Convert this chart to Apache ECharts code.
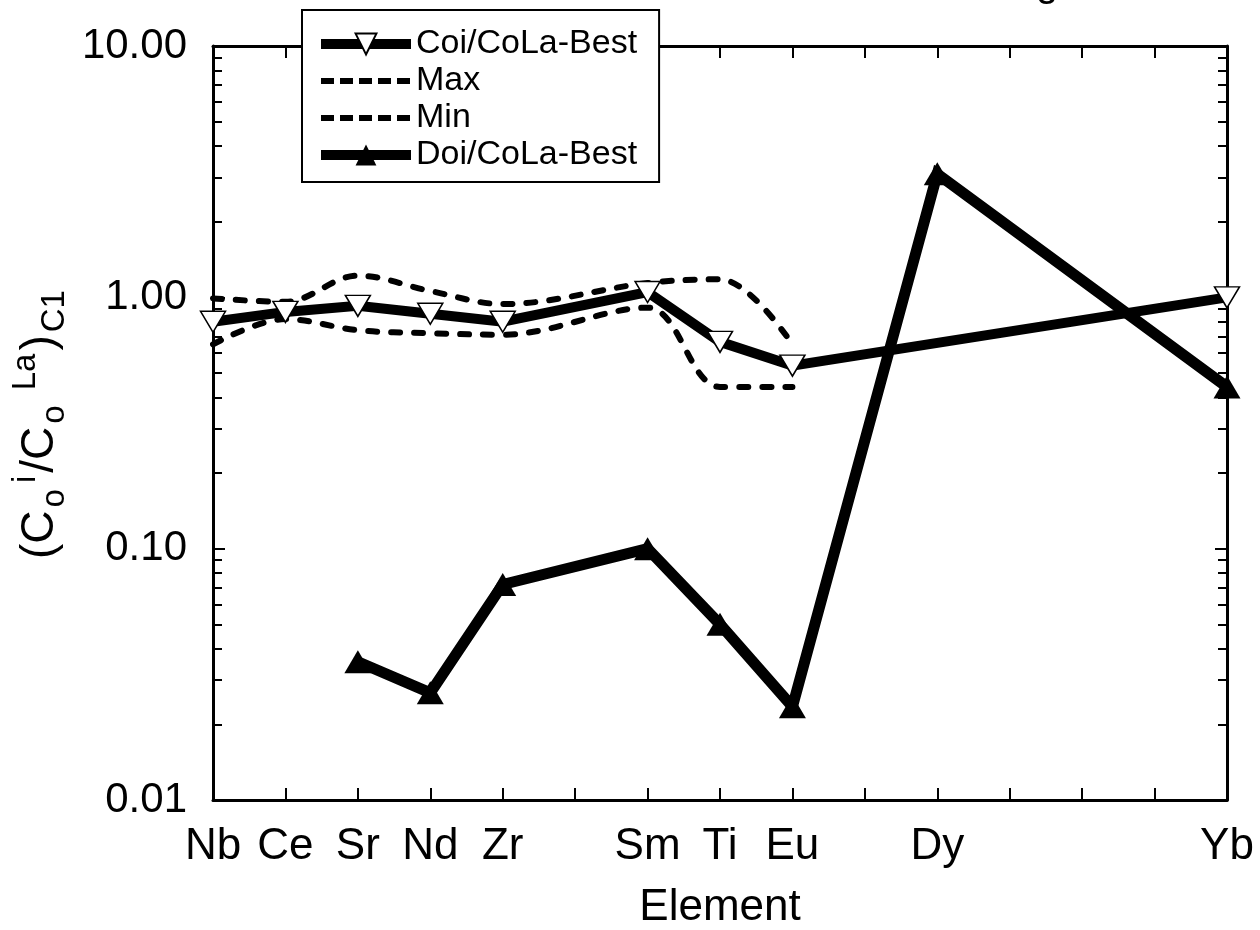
<!DOCTYPE html>
<html><head><meta charset="utf-8">
<script src="https://cdn.jsdelivr.net/npm/echarts@6/dist/echarts.min.js"></script>
<style>html,body{margin:0;padding:0;background:#fff}#c{width:1260px;height:930px}</style>
</head><body><div id="c"></div>
<script>
// ---- data ----
const elements  = ['Nb','Ce','Sr','Nd','Zr','Sm','Ti','Eu','Dy','Yb'];
const positions = [0, 1, 2, 3, 4, 6, 7, 8, 10, 14];
const coiBest = [0.80, 0.875, 0.925, 0.86, 0.80, 1.05, 0.665, 0.535, null, 1.0];
const maxVals = [0.99, 0.96, 1.22, 1.06, 0.94, 1.14, 1.18, 0.65, null, null];
const minVals = [0.65, 0.82, 0.74, 0.72, 0.71, 0.91, 0.44, 0.44, null, null];
const doiBest = [null, null, 0.0355, 0.0267, 0.072, 0.10, 0.050, 0.0235, 3.1, 0.44];
const yMinorTicks = [0.02,0.03,0.04,0.05,0.06,0.07,0.08,0.09,
                     0.2,0.3,0.4,0.5,0.6,0.7,0.8,0.9,
                     2,3,4,5,6,7,8,9];
const xMin = 0, xMax = 14;
const yMin = 0.01, yMax = 10;

const FF = '"Liberation Sans", Arial, Helvetica, sans-serif';
const pairs = vals => positions.map((p, i) => [p, vals[i]]).filter(d => d[1] != null);

const chart = echarts.init(document.getElementById('c'), null, {renderer: 'canvas'});

const axisLineStyle = {show: true, lineStyle: {color: '#000', width: 3}};
const majorTick = {show: true, inside: true, length: 12, lineStyle: {color: '#000', width: 2}};
const minorTick = {show: true, inside: true, length: 9, lineStyle: {color: '#000', width: 2}, customValues: yMinorTicks};
const dashStyle = {color: '#000', width: 6, type: [9, 14], cap: 'round'};
const legendDash = {width: 6, type: [13, 6], cap: 'butt', color: '#000'};

const option = {
  backgroundColor: '#fff',
  animation: false,
  grid: {left: 213, right: 33, top: 46, bottom: 130, containLabel: false, outerBoundsMode: 'none'},
  graphic: [{
    type: 'text', left: 1036, top: -35,
    style: {text: 'g', font: '40px ' + FF, fill: '#000'}
  }],
  legend: {
    orient: 'vertical', left: 302, top: 10,
    itemWidth: 90, itemHeight: 26, itemGap: 3,
    padding: [17, 22, 10, 14],
    backgroundColor: '#fff', borderColor: '#000', borderWidth: 2, borderRadius: 0,
    textStyle: {fontSize: 34, fontFamily: FF, color: '#000'},
    data: [
      {name: 'Coi/CoLa-Best', lineStyle: {width: 10, color: '#000'}},
      {name: 'Max', lineStyle: legendDash, itemStyle: {color: 'rgba(0,0,0,0)', borderWidth: 0}},
      {name: 'Min', lineStyle: legendDash, itemStyle: {color: 'rgba(0,0,0,0)', borderWidth: 0}},
      {name: 'Doi/CoLa-Best', lineStyle: {width: 10, color: '#000'}}
    ]
  },
  xAxis: [
    {
      type: 'value', min: xMin, max: xMax, interval: 1, position: 'bottom',
      axisLine: axisLineStyle, axisTick: majorTick, splitLine: {show: false},
      axisLabel: {
        show: true, margin: 25, fontSize: 44, fontFamily: FF, color: '#000',
        showMinLabel: true, showMaxLabel: true, hideOverlap: false,
        formatter: v => { const i = positions.indexOf(Math.round(v)); return i >= 0 ? elements[i] : ''; }
      },
      name: 'Element', nameLocation: 'middle', nameGap: 86,
      nameTextStyle: {fontSize: 44, fontFamily: FF, color: '#000'}
    },
    {
      type: 'value', min: xMin, max: xMax, interval: 1, position: 'top',
      axisLine: axisLineStyle, axisTick: majorTick, splitLine: {show: false},
      axisLabel: {show: false}
    }
  ],
  yAxis: [
    {
      type: 'log', logBase: 10, min: yMin, max: yMax, position: 'left',
      axisLine: axisLineStyle, axisTick: majorTick, splitLine: {show: false}, minorTick: {show: false},
      axisLabel: {show: true, margin: 26, fontSize: 42, fontFamily: FF, color: '#000',
        formatter: v => Number(v).toFixed(2)},
      name: '{p|(C}{s|o}{u|i}{p|/C}{s|o}{u| La}{p|)}{s|C1}',
      nameLocation: 'middle', nameRotate: 90, nameGap: 138,
      nameTextStyle: {
        color: '#000', fontFamily: FF,
        rich: {
          p: {fontSize: 46, fontFamily: FF, color: '#000', lineHeight: 62, verticalAlign: 'middle'},
          s: {fontSize: 33, fontFamily: FF, color: '#000', lineHeight: 28, verticalAlign: 'bottom', padding: [0, 3, 0, 3]},
          u: {fontSize: 33, fontFamily: FF, color: '#000', lineHeight: 28, verticalAlign: 'top', padding: [0, 3, 0, 3]}
        }
      }
    },
    {
      type: 'log', logBase: 10, min: yMin, max: yMax, position: 'left',
      axisLine: {show: false}, axisTick: minorTick, axisLabel: {show: false}, splitLine: {show: false}
    },
    {
      type: 'log', logBase: 10, min: yMin, max: yMax, position: 'right',
      axisLine: axisLineStyle, axisTick: majorTick, axisLabel: {show: false}, splitLine: {show: false}
    },
    {
      type: 'log', logBase: 10, min: yMin, max: yMax, position: 'right',
      axisLine: {show: false}, axisTick: minorTick, axisLabel: {show: false}, splitLine: {show: false}
    }
  ],
  series: [
    {
      name: 'Max', type: 'line', data: pairs(maxVals), xAxisIndex: 0, yAxisIndex: 0,
      smooth: 0.35, symbol: 'none', z: 2, lineStyle: dashStyle, itemStyle: {color: '#000'}
    },
    {
      name: 'Min', type: 'line', data: pairs(minVals), xAxisIndex: 0, yAxisIndex: 0,
      smooth: 0.35, symbol: 'none', z: 2, lineStyle: dashStyle, itemStyle: {color: '#000'}
    },
    {
      name: 'Coi/CoLa-Best', type: 'line', data: pairs(coiBest), xAxisIndex: 0, yAxisIndex: 0,
      symbol: 'triangle', symbolRotate: 180, symbolSize: [25, 21], z: 3,
      lineStyle: {color: '#000', width: 10, join: 'miter'},
      itemStyle: {color: '#fff', borderColor: '#000', borderWidth: 1.5}
    },
    {
      name: 'Doi/CoLa-Best', type: 'line', data: pairs(doiBest), xAxisIndex: 0, yAxisIndex: 0,
      symbol: 'triangle', symbolSize: [27, 23], z: 4,
      lineStyle: {color: '#000', width: 11, join: 'miter', miterLimit: 6},
      itemStyle: {color: '#000', borderColor: '#000', borderWidth: 0}
    }
  ]
};
chart.setOption(option);
</script>
</body></html>
